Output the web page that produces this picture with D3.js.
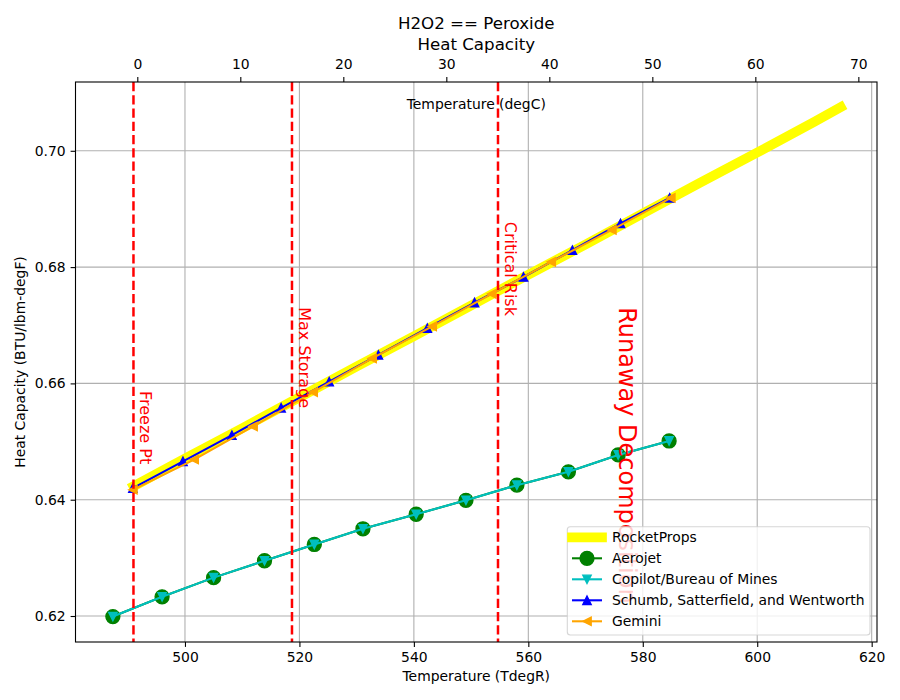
<!DOCTYPE html>
<html>
<head>
<meta charset="utf-8">
<script src="https://cdn.jsdelivr.net/npm/d3@7"></script>
<style>
  html, body { margin: 0; padding: 0; background: #fff; }
  svg { display: block; font-family: "DejaVu Sans", sans-serif; }
</style>
</head>
<body>
<svg id="chart" width="900" height="700"></svg>
<script>
// Temperatures in degR, heat capacity in BTU/lbm-degF
const rocketPropsT = [491.0, 500, 510, 520, 530, 540, 550, 560, 570, 580, 590, 600, 610, 614.6];
const rocketPropsCp = [0.6423, 0.6471, 0.6523, 0.6576, 0.6629, 0.6681, 0.6734, 0.6787, 0.6839, 0.6892, 0.6945, 0.6997, 0.7050, 0.7075];

const aerojetT = [487.4, 496.0, 505.0, 513.9, 522.6, 531.1, 540.4, 549.1, 558.0, 567.0, 575.7, 584.6];
const aerojetCp = [0.6199, 0.6233, 0.6266, 0.6295, 0.6323, 0.6350, 0.6375, 0.6399, 0.6425, 0.6448, 0.6477, 0.6501];

const copilotT = [487.4, 496.0, 505.0, 513.9, 522.6, 531.1, 540.4, 549.1, 558.0, 567.0, 575.7, 584.6];
const copilotCp = [0.6199, 0.6233, 0.6266, 0.6295, 0.6323, 0.6350, 0.6375, 0.6399, 0.6425, 0.6448, 0.6477, 0.6501];

const schumbT = [490.9, 499.65, 508.2, 516.8, 525.2, 533.8, 542.35, 550.6, 559.15, 567.7, 576.1, 584.7];
const schumbCp = [0.6420, 0.6466, 0.6511, 0.6558, 0.6603, 0.6649, 0.6695, 0.6739, 0.6783, 0.6829, 0.6875, 0.6919];

const geminiT = [490.9, 501.6, 511.9, 522.4, 532.7, 543.2, 553.6, 564.0, 574.6, 584.9];
const geminiCp = [0.6417, 0.6469, 0.6526, 0.6585, 0.6643, 0.6698, 0.6754, 0.6809, 0.6864, 0.6919];

const xTicks = [500, 520, 540, 560, 580, 600, 620];
const xTicksC = [0, 10, 20, 30, 40, 50, 60, 70];
const yTicks = [0.62, 0.64, 0.66, 0.68, 0.70];

const markerT = [491.0, 518.7, 554.7];
const noteLabels = ["Freeze Pt", "Max Storage", "Critical Risk", "Runaway Decomposition"];
const noteT = [492.14, 519.92, 555.92, 575.84];
const noteCp = [0.6587, 0.6731, 0.6878, 0.6731];

const series = [
  { name: "RocketProps", t: rocketPropsT, cp: rocketPropsCp, color: "#ffff00", lw: 9.7, marker: null },
  { name: "Aerojet", t: aerojetT, cp: aerojetCp, color: "#008000", lw: 2.08, marker: "circle", ms: 13.9 },
  { name: "Copilot/Bureau of Mines", t: copilotT, cp: copilotCp, color: "#00bfbf", lw: 2.08, marker: "down", ms: 8.33 },
  { name: "Schumb, Satterfield, and Wentworth", t: schumbT, cp: schumbCp, color: "#0000ff", lw: 2.08, marker: "up", ms: 8.33 },
  { name: "Gemini", t: geminiT, cp: geminiCp, color: "#ffa500", lw: 2.08, marker: "left", ms: 8.33 }
];

const svg = d3.select("#chart");
const plotL = 75.5, plotR = 877, plotT = 82, plotB = 642;

const x = d3.scaleLinear().domain([480.87, 620.93]).range([plotL, plotR]);
const xC = d3.scaleLinear()
  .domain([(480.87 - 491.67) / 1.8, (620.93 - 491.67) / 1.8])
  .range([plotL, plotR]);
const y = d3.scaleLinear().domain([0.61553, 0.71183]).range([plotB, plotT]);

svg.append("rect").attr("width", 900).attr("height", 700).attr("fill", "#fff");

svg.append("clipPath").attr("id", "plot-clip")
  .append("rect")
  .attr("x", plotL).attr("y", plotT)
  .attr("width", plotR - plotL).attr("height", plotB - plotT);

// grid
const grid = svg.append("g").attr("stroke", "#b0b0b0").attr("stroke-width", 1.1);
grid.selectAll(".gx").data(xTicks).join("line").attr("class", "gx")
  .attr("x1", d => x(d)).attr("x2", d => x(d))
  .attr("y1", plotT).attr("y2", plotB);
grid.selectAll(".gy").data(yTicks).join("line").attr("class", "gy")
  .attr("x1", plotL).attr("x2", plotR)
  .attr("y1", d => y(d)).attr("y2", d => y(d));

function markerPath(type, s) {
  const h = s / 2;
  if (type === "up") return `M0,${-h}L${-h},${h}L${h},${h}Z`;
  if (type === "down") return `M0,${h}L${-h},${-h}L${h},${-h}Z`;
  if (type === "left") return `M${-h},0L${h},${-h}L${h},${h}Z`;
  return null;
}

function drawMarker(g, type, s, color, cx, cy) {
  if (type === "circle") {
    g.append("circle").attr("cx", cx).attr("cy", cy).attr("r", s / 2)
      .attr("fill", color).attr("stroke", color).attr("stroke-width", 1.39);
  } else {
    g.append("path").attr("d", markerPath(type, s))
      .attr("transform", `translate(${cx},${cy})`)
      .attr("fill", color).attr("stroke", color).attr("stroke-width", 1.39)
      .attr("stroke-linejoin", "miter");
  }
}

const plot = svg.append("g").attr("clip-path", "url(#plot-clip)");
const line = d3.line().x(d => x(d[0])).y(d => y(d[1]));

series.forEach(s => {
  const pts = s.t.map((t, i) => [t, s.cp[i]]);
  plot.append("path")
    .attr("d", line(pts))
    .attr("fill", "none")
    .attr("stroke", s.color)
    .attr("stroke-width", s.lw)
    .attr("stroke-linecap", s.marker ? "butt" : "square")
    .attr("stroke-linejoin", "round");
  if (s.marker) {
    const mg = plot.append("g");
    pts.forEach(p => drawMarker(mg, s.marker, s.ms, s.color, x(p[0]), y(p[1])));
  }
});

// vertical limit lines
plot.selectAll(".vline").data(markerT).join("line").attr("class", "vline")
  .attr("x1", d => x(d)).attr("x2", d => x(d))
  .attr("y1", plotT).attr("y2", plotB)
  .attr("stroke", "#ff0000").attr("stroke-width", 2.5)
  .attr("stroke-dasharray", "9.25,4");

// rotated notes
svg.selectAll(".note").data(noteLabels).join("text").attr("class", "note")
  .attr("transform", (d, i) => `translate(${x(noteT[i])},${y(noteCp[i])}) rotate(90)`)
  .attr("fill", "#ff0000")
  .attr("font-size", (d, i) => i === 3 ? 24 : 16)
  .attr("text-anchor", "start")
  .text(d => d);

// axes
const fmt = d3.format(".2f");
const axB = svg.append("g").attr("transform", `translate(0,${plotB})`)
  .call(d3.axisBottom(x).tickValues(xTicks).tickFormat(d3.format("d")).tickSize(4.9).tickPadding(4.9).tickSizeOuter(0));
const axT = svg.append("g").attr("transform", `translate(0,${plotT})`)
  .call(d3.axisTop(xC).tickValues(xTicksC).tickFormat(d3.format("d")).tickSize(4.9).tickPadding(8).tickSizeOuter(0));
const axL = svg.append("g").attr("transform", `translate(${plotL},0)`)
  .call(d3.axisLeft(y).tickValues(yTicks).tickFormat(fmt).tickSize(4.9).tickPadding(4.9).tickSizeOuter(0));

[axB, axT, axL].forEach(a => {
  a.select(".domain").remove();
  a.selectAll(".tick line").attr("stroke", "#000").attr("stroke-width", 1.1);
  a.selectAll(".tick text").attr("font-size", 13.9).attr("font-family", "DejaVu Sans").attr("fill", "#000");
});

svg.append("rect")
  .attr("x", plotL).attr("y", plotT)
  .attr("width", plotR - plotL).attr("height", plotB - plotT)
  .attr("fill", "none").attr("stroke", "#000").attr("stroke-width", 1.1);

// labels
const cx = (plotL + plotR) / 2;
svg.append("text").attr("x", cx).attr("y", 29).attr("text-anchor", "middle")
  .attr("font-size", 16.67).text("H2O2 == Peroxide");
svg.append("text").attr("x", cx).attr("y", 50).attr("text-anchor", "middle")
  .attr("font-size", 16.67).text("Heat Capacity");
svg.append("text").attr("x", cx).attr("y", 108.5).attr("text-anchor", "middle")
  .attr("font-size", 13.9).text("Temperature (degC)");
svg.append("text").attr("x", cx).attr("y", 681).attr("text-anchor", "middle")
  .attr("font-size", 13.9).text("Temperature (TdegR)");
svg.append("text")
  .attr("transform", `translate(25,${(plotT + plotB) / 2}) rotate(-90)`)
  .attr("text-anchor", "middle")
  .attr("font-size", 13.9).text("Heat Capacity (BTU/lbm-degF)");

// legend
const leg = svg.append("g");
leg.append("rect")
  .attr("x", 567.3).attr("y", 526.7).attr("width", 302.7).attr("height", 108.3)
  .attr("rx", 3)
  .attr("fill", "#fff").attr("fill-opacity", 0.8)
  .attr("stroke", "#cccccc").attr("stroke-opacity", 0.8).attr("stroke-width", 1.1);

series.forEach((s, i) => {
  const ry = 537.3 + i * 21;
  leg.append("line")
    .attr("x1", 572).attr("x2", 602).attr("y1", ry).attr("y2", ry)
    .attr("stroke", s.color).attr("stroke-width", s.lw)
    .attr("stroke-linecap", s.marker ? "butt" : "square");
  if (s.marker) drawMarker(leg, s.marker, s.ms, s.color, 587, ry);
  leg.append("text").attr("x", 612).attr("y", ry + 5)
    .attr("font-size", 13.9).text(s.name);
});
</script>
</body>
</html>
